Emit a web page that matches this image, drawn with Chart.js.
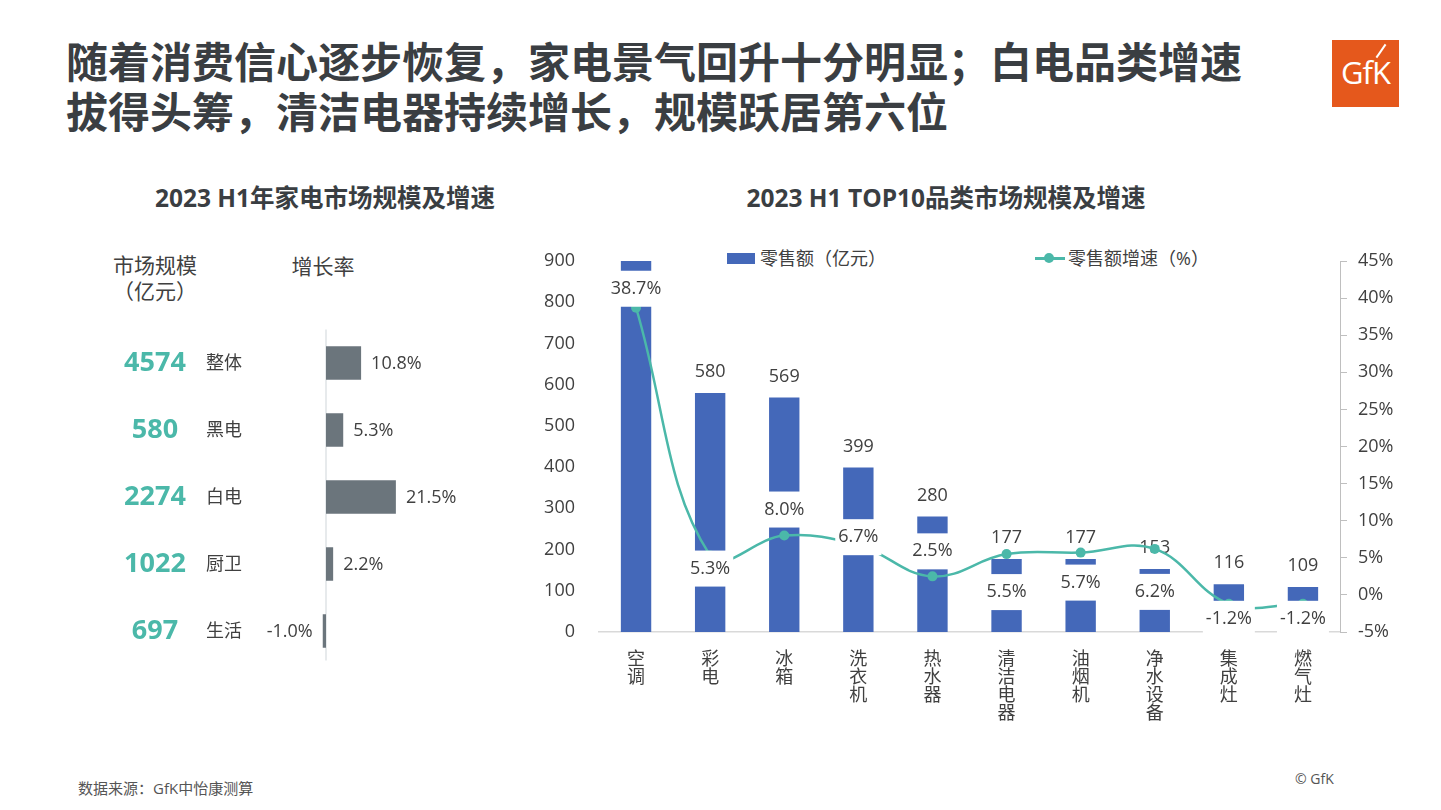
<!DOCTYPE html>
<html>
<head>
<meta charset="utf-8">
<script src="https://cdn.jsdelivr.net/npm/chart.js@4.4.0/dist/chart.umd.min.js"></script>
<style>
  body { margin: 0; width: 1441px; height: 810px; background: #fff; position: relative; overflow: hidden;
         font-family: "Open Sans", "Noto Sans CJK SC", sans-serif; color: #404040; }
  .abs { position: absolute; white-space: nowrap; }
  #title { left: 66px; top: 35px; font-family: "Noto Sans CJK SC", sans-serif; font-weight: 700;
           font-size: 42px; line-height: 50px; color: #3a3e42; }
  .sub { font-weight: 700; font-size: 24.5px; color: #3a3e42; top: 183px; line-height: 30px; text-align: center; width: 460px; }
  .head { font-size: 21px; line-height: 26px; color: #404040; text-align: center; }
  .leg { font-size: 18px; line-height: 24px; top: 246px; color: #404040; }
  #logo { left: 1332px; top: 40px; width: 67px; height: 67px; background: #e5581c; }
  #logo span { position: absolute; left: 0; right: 0; top: 14px; text-align: center; color: #fff;
               font-size: 31px; line-height: 36px; font-family: "Open Sans", sans-serif; letter-spacing: -1px; }
  #logo i { position: absolute; left: 48px; top: 3px; width: 2px; height: 16px; background: #fff; transform: rotate(35deg); }
  canvas { position: absolute; }
</style>
</head>
<body>
<div id="title" class="abs">随着消费信心逐步恢复，家电景气回升十分明显；白电品类增速<br>拔得头筹，清洁电器持续增长，规模跃居第六位</div>
<div id="logo" class="abs"><span>GfK</span><i></i></div>

<div class="abs sub" style="left:95px;">2023 H1年家电市场规模及增速</div>
<div class="abs sub" style="left:716px;">2023 H1 TOP10品类市场规模及增速</div>

<div class="abs head" style="left:95px;top:252px;width:120px;">市场规模<br>（亿元）</div>
<div class="abs head" style="left:263px;top:253px;width:120px;">增长率</div>

<div class="abs" style="left:727px;top:253px;width:28px;height:11px;background:#4468b9;"></div>
<div class="abs leg" style="left:760px;">零售额（亿元）</div>
<div class="abs" style="left:1035px;top:257px;width:30px;height:2.5px;background:#4bb8a9;"></div>
<div class="abs" style="left:1044px;top:253px;width:10px;height:10px;border-radius:50%;background:#4bb8a9;"></div>
<div class="abs leg" style="left:1068px;">零售额增速（%）</div>

<div class="abs" style="left:78px;top:777px;font-size:15px;color:#555;">数据来源：GfK中怡康测算</div>
<div class="abs" style="left:1295px;top:769px;font-size:14px;color:#555;">© GfK</div>

<canvas id="left" width="520" height="350" style="left:0;top:320px;"></canvas>
<canvas id="right" width="921" height="520" style="left:520px;top:230px;"></canvas>

<script>
// left chart data
const segments = ['整体', '黑电', '白电', '厨卫', '生活'];
const segmentSize = [4574, 580, 2274, 1022, 697];
const segmentGrowth = [10.8, 5.3, 21.5, 2.2, -1.0];

// right chart data (空调 bar runs past the 900 axis top, value estimated)
const categories = ['空调', '彩电', '冰箱', '洗衣机', '热水器', '清洁电器', '油烟机', '净水设备', '集成灶', '燃气灶'];
const retailSales = [1100, 580, 569, 399, 280, 177, 177, 153, 116, 109];
const retailGrowth = [38.7, 5.3, 8.0, 6.7, 2.5, 5.5, 5.7, 6.2, -1.2, -1.2];

// where each growth label sits relative to its point (px)
const growthLabelDy = [-19, 13, -26, -8, -25, 38, 30, 43, 15, 15];

const BLUE = '#4468b9';
const TEAL = '#4bb8a9';
const GREY = '#6b757c';
const TEXT = '#404040';
const FONT = '"Open Sans", "Noto Sans CJK SC", sans-serif';

Chart.defaults.font.family = FONT;
Chart.defaults.color = TEXT;

const leftLabels = {
  id: 'leftLabels',
  beforeDatasetsDraw(chart) {
    const { ctx, scales: { x }, chartArea } = chart;
    const x0 = x.getPixelForValue(0);
    ctx.save();
    ctx.strokeStyle = '#dfe3e6';
    ctx.lineWidth = 1.5;
    ctx.beginPath();
    ctx.moveTo(x0, chartArea.top);
    ctx.lineTo(x0, chartArea.bottom - 4);
    ctx.stroke();
    ctx.restore();
  },
  afterDatasetsDraw(chart) {
    const { ctx, scales: { x, y } } = chart;
    ctx.save();
    ctx.textBaseline = 'middle';
    segments.forEach((name, i) => {
      const py = y.getPixelForValue(i);
      ctx.fillStyle = TEAL;
      ctx.font = '700 27px ' + FONT;
      ctx.textAlign = 'center';
      ctx.fillText(String(segmentSize[i]), 155, py);
      ctx.fillStyle = TEXT;
      ctx.font = '18px ' + FONT;
      ctx.textAlign = 'left';
      ctx.fillText(name, 206, py + 1);
      const g = segmentGrowth[i];
      const px = x.getPixelForValue(g);
      ctx.font = '18px ' + FONT;
      ctx.textAlign = g < 0 ? 'right' : 'left';
      ctx.fillText(g.toFixed(1) + '%', g < 0 ? px - 10 : px + 10, py + 1);
    });
    ctx.restore();
  }
};

new Chart(document.getElementById('left'), {
  type: 'bar',
  data: {
    labels: segments,
    datasets: [{ data: segmentGrowth, backgroundColor: GREY, barPercentage: 0.5, categoryPercentage: 1 }]
  },
  options: {
    indexAxis: 'y',
    responsive: false,
    animation: false,
    layout: { padding: { left: 14, right: 31.5, top: 9.5, bottom: 5.5 } },
    plugins: { legend: { display: false }, tooltip: { enabled: false } },
    scales: {
      x: { display: false, min: -96, max: 50 },
      y: { display: false }
    }
  },
  plugins: [leftLabels]
});

function boxText(ctx, text, x, y) {
  const w = ctx.measureText(text).width + 6;
  ctx.fillStyle = '#fff';
  ctx.fillRect(x - w / 2, y - 18, w, 36);
  ctx.fillStyle = TEXT;
  ctx.fillText(text, x, y);
}

const rightLabels = {
  id: 'rightLabels',
  afterDatasetDraw(chart, args) {
    if (args.index !== 0) return;
    const { ctx } = chart;
    const yMax = chart.scales.y.max;
    ctx.save();
    ctx.font = '18px ' + FONT;
    ctx.textAlign = 'center';
    ctx.textBaseline = 'middle';
    args.meta.data.forEach((bar, i) => {
      if (retailSales[i] > yMax) return;
      boxText(ctx, String(retailSales[i]), bar.x, bar.y - 21);
    });
    ctx.restore();
  },
  afterDraw(chart) {
    const { ctx } = chart;
    const meta = chart.getDatasetMeta(1);
    ctx.save();
    ctx.font = '18px ' + FONT;
    ctx.textAlign = 'center';
    ctx.textBaseline = 'middle';
    meta.data.forEach((pt, i) => {
      boxText(ctx, retailGrowth[i].toFixed(1) + '%', pt.x, pt.y + growthLabelDy[i]);
    });
    ctx.restore();
  }
};

new Chart(document.getElementById('right'), {
  type: 'bar',
  data: {
    labels: categories.map(c => c.split('')),
    datasets: [
      {
        type: 'bar',
        label: '零售额（亿元）',
        data: retailSales,
        backgroundColor: BLUE,
        barPercentage: 0.41,
        categoryPercentage: 1,
        yAxisID: 'y',
        order: 1
      },
      {
        type: 'line',
        label: '零售额增速（%）',
        data: retailGrowth,
        borderColor: TEAL,
        backgroundColor: TEAL,
        borderWidth: 2.5,
        pointRadius: 5,
        pointBorderWidth: 0,
        pointBackgroundColor: TEAL,
        tension: 0.4,
        yAxisID: 'y1',
        order: 0
      }
    ]
  },
  options: {
    responsive: false,
    animation: false,
    layout: { padding: { top: 31, bottom: 0, left: 0, right: 0 } },
    plugins: { legend: { display: false }, tooltip: { enabled: false } },
    scales: {
      x: {
        grid: { display: false, drawTicks: false },
        border: { display: true, color: '#d9d9d9', width: 1.5 },
        ticks: { font: { size: 18, lineHeight: 1 }, padding: 19, maxRotation: 0, autoSkip: false, color: TEXT },
        afterFit(s) { s.height = 118; }
      },
      y: {
        position: 'left',
        min: 0,
        max: 900,
        // invisible tick length keeps the labels 24px off the plot without inflating top padding
        grid: { display: false, drawTicks: true, tickLength: 24 },
        border: { display: false },
        ticks: { stepSize: 100, font: { size: 18 }, padding: 0, color: TEXT },
        afterFit(s) { s.width = 79; }
      },
      y1: {
        position: 'right',
        min: -5,
        max: 45,
        grid: { display: true, drawOnChartArea: false, drawTicks: true, tickLength: 7, color: '#bfbfbf' },
        border: { display: true, color: '#bfbfbf' },
        ticks: { stepSize: 5, font: { size: 18 }, padding: 11, color: TEXT, callback: v => v + '%' },
        afterFit(s) { s.width = 101; }
      }
    }
  },
  plugins: [rightLabels]
});
</script>
</body>
</html>
